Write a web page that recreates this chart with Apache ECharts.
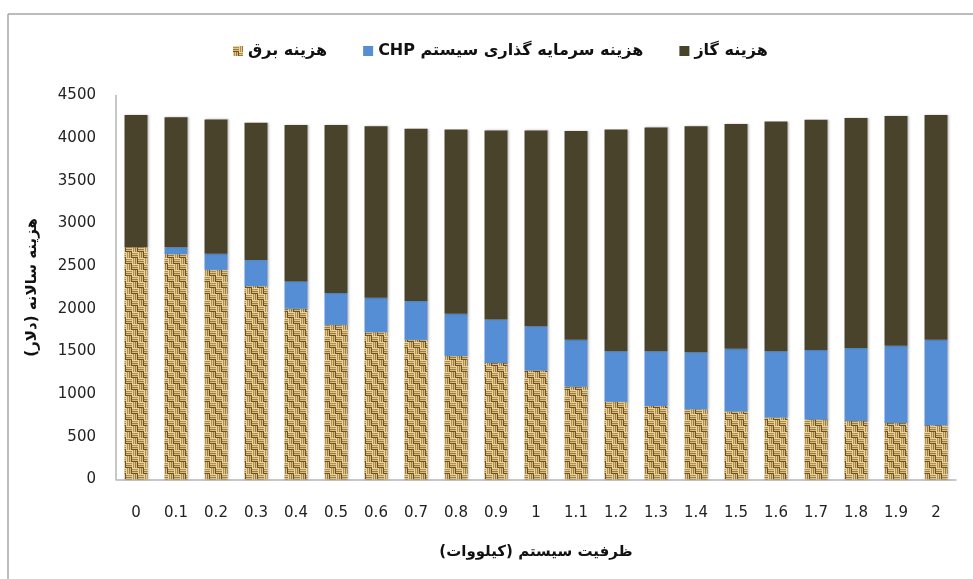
<!DOCTYPE html>
<html>
<head>
<meta charset="utf-8">
<script src="https://cdn.jsdelivr.net/npm/echarts@6/dist/echarts.min.js"></script>
<style>
html,body{margin:0;padding:0;background:#fff;}
#main{width:973px;height:579px;}
</style>
</head>
<body>
<div id="main"></div>
<script>
var categories = ['0','0.1','0.2','0.3','0.4','0.5','0.6','0.7','0.8','0.9','1','1.1','1.2','1.3','1.4','1.5','1.6','1.7','1.8','1.9','2'];
var electricityCost = [2720, 2640, 2455, 2265, 2000, 1810, 1725, 1635, 1445, 1365, 1275, 1085, 910, 860, 820, 795, 725, 700, 685, 660, 635];
var chpInvestCost = [0, 80, 190, 305, 320, 375, 405, 455, 495, 510, 520, 550, 590, 640, 670, 735, 775, 815, 855, 905, 1000];
var gasCost = [1550, 1525, 1575, 1610, 1835, 1970, 2010, 2020, 2160, 2215, 2295, 2450, 2600, 2625, 2650, 2635, 2695, 2700, 2695, 2695, 2635];
var yTicks = [0, 500, 1000, 1500, 2000, 2500, 3000, 3500, 4000, 4500];

var seriesNames = ['هزینه برق', 'هزینه سرمایه گذاری سیستم CHP', 'هزینه گاز'];
var yName = 'هزینه سالانه (دلار)';
var xName = 'ظرفیت سیستم (کیلووات)';

// right-to-left embedding so mixed Persian/Latin text is laid out as in the original
function rtl(s) { return '\u202B' + s + '\u202C'; }

function makeWeave() {
  var c = document.createElement('canvas');
  c.width = 12; c.height = 12;
  var g = c.getContext('2d');
  g.fillStyle = '#c4a263';
  g.fillRect(0, 0, 12, 12);
  for (var by = 0; by < 2; by++) {
    for (var bx = 0; bx < 2; bx++) {
      var x0 = bx * 6, y0 = by * 6;
      var horiz = (bx + by) % 2 === 0;
      var rows = ['#ecd59a', '#b18f50', '#e2c888', '#9b7a3f', '#d9bd7c', '#6e5024'];
      for (var i = 0; i < 6; i++) {
        g.fillStyle = rows[i];
        if (horiz) g.fillRect(x0, y0 + i, 6, 1);
        else g.fillRect(x0 + i, y0, 1, 6);
      }
    }
  }
  return c;
}
var weave = { image: makeWeave(), repeat: 'repeat' };

var chart = echarts.init(document.getElementById('main'));
var persianFont = 'DejaVu Sans';
var barShadow = { shadowBlur: 2, shadowColor: 'rgba(0,0,0,0.25)', shadowOffsetX: 1, shadowOffsetY: 0 };

chart.setOption({
  backgroundColor: '#ffffff',
  animation: false,
  graphic: [
    { type: 'line', shape: { x1: 8, y1: 14, x2: 973, y2: 14 }, style: { stroke: '#a6a6a6', lineWidth: 1.5 }, silent: true },
    { type: 'line', shape: { x1: 8, y1: 14, x2: 8, y2: 579 }, style: { stroke: '#a6a6a6', lineWidth: 1.5 }, silent: true }
  ],
  legend: {
    data: seriesNames,
    top: 38,
    left: 228,
    itemWidth: 10,
    itemHeight: 10,
    itemGap: 36,
    icon: 'rect',
    formatter: function (n) { return rtl(n); },
    textStyle: { fontFamily: persianFont, fontSize: 16, fontWeight: 'bold', color: '#111' }
  },
  grid: { left: 116, right: 17, top: 95.5, bottom: 99.7, containLabel: false },
  xAxis: {
    type: 'category',
    data: categories,
    name: rtl(xName),
    nameLocation: 'middle',
    nameGap: 65,
    nameTextStyle: { fontFamily: persianFont, fontSize: 15, fontWeight: 'bold', color: '#111' },
    axisTick: { show: false },
    axisLine: { lineStyle: { color: '#b5b5b5', width: 1.5 } },
    axisLabel: { margin: 26, fontFamily: 'DejaVu Sans', fontSize: 15, color: '#222' }
  },
  yAxis: {
    type: 'value',
    min: yTicks[0],
    max: yTicks[yTicks.length - 1],
    interval: yTicks[1] - yTicks[0],
    name: rtl(yName),
    nameLocation: 'middle',
    nameRotate: 90,
    nameGap: 76,
    nameTextStyle: { fontFamily: persianFont, fontSize: 15, fontWeight: 'bold', color: '#111' },
    axisLine: { show: true, lineStyle: { color: '#b5b5b5', width: 1.5 } },
    axisTick: { show: false },
    splitLine: { show: false },
    axisLabel: { margin: 20, fontFamily: 'DejaVu Sans', fontSize: 15, color: '#222', formatter: function (v) { return String(v); } }
  },
  series: [
    { name: seriesNames[0], type: 'bar', stack: 'cost', barWidth: 23, data: electricityCost,
      itemStyle: Object.assign({ color: weave }, barShadow) },
    { name: seriesNames[1], type: 'bar', stack: 'cost', barWidth: 23, data: chpInvestCost,
      itemStyle: Object.assign({ color: '#558ed5' }, barShadow) },
    { name: seriesNames[2], type: 'bar', stack: 'cost', barWidth: 23, data: gasCost,
      itemStyle: Object.assign({ color: '#4a432b' }, barShadow) }
  ]
});
</script>
</body>
</html>
